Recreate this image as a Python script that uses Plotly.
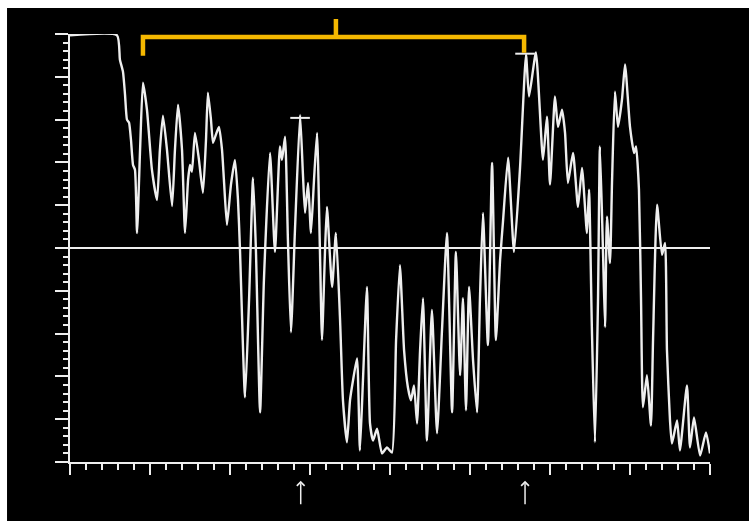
import plotly.graph_objects as go

# Waveform samples (time units 0..40, amplitude -5..5)
t = [0, 2.94, 3.12, 3.31, 3.44, 3.56, 3.69, 3.81, 3.94, 4.06, 4.19, 4.38, 4.56, 4.81, 5.12,
     5.44, 5.62, 5.81, 6.06, 6.38, 6.56, 6.75, 7.0, 7.19, 7.38, 7.5, 7.62, 7.81, 8.06, 8.31,
     8.5, 8.62, 8.81, 8.94, 9.12, 9.31, 9.5, 9.62, 9.81, 10.06, 10.31, 10.5, 10.62, 10.94, 11.19,
     11.44, 11.62, 11.88, 12.12, 12.5, 12.81, 13.12, 13.25, 13.44, 13.62, 13.81, 14.06, 14.38, 14.56,
     14.69, 14.88, 15.06, 15.25, 15.44, 15.62, 15.75, 15.94, 16.06, 16.38, 16.62, 16.88, 17.06, 17.31,
     17.5, 17.69, 17.94, 18.12, 18.31, 18.56, 18.75, 18.94, 19.19, 19.5, 19.81, 20.12, 20.38, 20.62,
     20.88, 21.12, 21.31, 21.5, 21.69, 21.88, 22.06, 22.31, 22.62, 22.94, 23.25, 23.56, 23.88, 24.12,
     24.38, 24.56, 24.75, 24.94, 25.19, 25.44, 25.62, 25.81, 26.12, 26.38, 26.62, 26.88, 27.06, 27.38,
     27.75, 28.12, 28.5, 28.69, 29.12, 29.56, 29.81, 30.0, 30.31, 30.5, 30.75, 30.94, 31.12, 31.44,
     31.75, 32.0, 32.31, 32.44, 32.62, 32.81, 33.0, 33.12, 33.31, 33.44, 33.56, 33.75, 33.88, 34.06,
     34.25, 34.5, 34.69, 35.0, 35.25, 35.38, 35.56, 35.69, 35.81, 36.06, 36.31, 36.44, 36.69, 37.0,
     37.19, 37.31, 37.5, 37.62, 37.94, 38.12, 38.56, 38.75, 39.0, 39.38, 39.75, 40.0]
amp = [4.97, 4.97, 4.40, 4.12, 3.58, 3.00, 2.93, 2.53, 1.94, 1.83, 0.35, 2.30, 3.86, 3.23, 1.83,
       1.12, 2.30, 3.09, 2.30, 0.98, 2.30, 3.35, 2.30, 0.35, 1.59, 1.94, 1.78, 2.69, 2.06, 1.29,
       2.53, 3.63, 3.00, 2.46, 2.65, 2.83, 2.30, 1.59, 0.54, 1.48, 2.06, 1.12, 0.0, -3.49, -1.22,
       1.64, -0.05, -3.84, -0.75, 2.22, -0.09, 2.37, 2.06, 2.60, 0.19, -1.97, 0.42, 3.11, 1.71,
       0.82, 1.52, 0.35, 1.59, 2.69, -0.05, -2.15, -0.05, 0.96, -0.91, 0.35, -1.69, -3.56, -4.54,
       -3.56, -3.09, -2.58, -4.73, -3.09, -0.91, -4.10, -4.50, -4.22, -4.80, -4.66, -4.78, -2.15, -0.40,
       -2.39, -3.26, -3.56, -3.21, -4.10, -2.39, -1.17, -4.50, -1.45, -4.33, -1.92, 0.35, -3.84, -0.09,
       -2.97, -1.17, -3.79, -0.91, -2.62, -3.84, -1.22, 0.82, -2.27, 1.99, -2.15, -0.28, 0.61, 2.11,
       -0.09, 1.83, 4.52, 3.54, 4.57, 2.06, 3.07, 1.48, 3.54, 2.83, 3.23, 2.69, 1.52, 2.22,
       0.96, 1.87, 0.35, 1.36, -1.92, -4.54, -1.22, 2.37, -0.05, -1.85, 0.73, -0.35, 1.59, 3.65,
       2.83, 3.47, 4.29, 2.83, 2.22, 2.37, 1.36, -1.22, -3.72, -2.97, -4.15, -2.15, 1.01, -0.16,
       0.12, -2.39, -4.03, -4.57, -4.03, -4.73, -3.21, -4.66, -3.96, -4.85, -4.31, -4.80]

# Cursor marks on the trace
cursor_t = [14.38, 28.44]
cursor_amp = [3.04, 4.54]

# Bracket span (time units) and arrow positions
bracket_start, bracket_mid, bracket_end = 4.56, 16.62, 28.38
arrow_t = [14.42, 28.44]

FG = "#eeeeee"
YEL = "#f5b800"

fig = go.Figure()
fig.add_trace(go.Scatter(x=t, y=amp, mode="lines",
                         line=dict(color=FG, width=2.4, shape="spline", smoothing=0.5),
                         hoverinfo="skip", showlegend=False))
fig.add_trace(go.Scatter(x=cursor_t, y=cursor_amp, mode="markers",
                         marker=dict(symbol="line-ew", size=14, line=dict(color=FG, width=2)),
                         hoverinfo="skip", showlegend=False))

# Bracket
fig.add_shape(type="path", xref="x", yref="paper",
              path=f"M{bracket_start},0.949 L{bracket_start},0.993 L{bracket_end},0.993 L{bracket_end},0.956",
              line=dict(color=YEL, width=4.5))
fig.add_shape(type="line", xref="x", yref="paper", x0=bracket_mid, x1=bracket_mid, y0=0.993, y1=1.035,
              line=dict(color=YEL, width=4.5))

# white page border on the top and left edges
fig.add_shape(type="rect", xref="paper", yref="paper", x0=-0.2, x1=1.2, y0=1.0607, y1=1.3,
              fillcolor="white", line=dict(width=0))
fig.add_shape(type="rect", xref="paper", yref="paper", x0=-0.2, x1=-0.0984, y0=-0.3, y1=1.3,
              fillcolor="white", line=dict(width=0))

for a in arrow_t:
    fig.add_annotation(x=a, xref="x", y=-0.044, yref="paper", ax=0, ay=25, text="",
                       showarrow=True, arrowhead=4, arrowsize=1, arrowwidth=1.5, arrowcolor=FG)

fig.update_layout(
    width=749, height=521,
    margin=dict(l=70, r=39, t=34, b=59),
    paper_bgcolor="black", plot_bgcolor="black",
    xaxis=dict(range=[0, 40], showgrid=False, zeroline=False, showline=True, linecolor=FG,
               linewidth=2, ticks="outside", dtick=5, tick0=0, ticklen=11, tickwidth=2,
               tickcolor=FG, showticklabels=False,
               minor=dict(dtick=1, ticklen=6, tickwidth=2, tickcolor=FG, ticks="outside", showgrid=False)),
    xaxis2=dict(range=[0, 40], overlaying="x", anchor="y", side="bottom", showgrid=False,
                zeroline=False, showline=False, ticks="outside", dtick=10, tick0=0, ticklen=18,
                tickwidth=2, tickcolor=FG, showticklabels=False),
    yaxis=dict(range=[-5, 5], showgrid=False, zeroline=True, zerolinecolor=FG, zerolinewidth=2,
               showline=True, linecolor=FG, linewidth=2, ticks="outside", dtick=1, tick0=0,
               ticklen=13, tickwidth=2, tickcolor=FG, showticklabels=False,
               minor=dict(dtick=0.2, ticklen=5, tickwidth=2, tickcolor=FG, ticks="outside", showgrid=False)),
)

fig.write_html("out.html", config={"displayModeBar": False, "staticPlot": True},
               post_script="document.body.style.margin='0';"
                           "document.body.style.background='black';"
                           "document.documentElement.style.background='black';"
                           "document.documentElement.style.overflow='hidden';")
